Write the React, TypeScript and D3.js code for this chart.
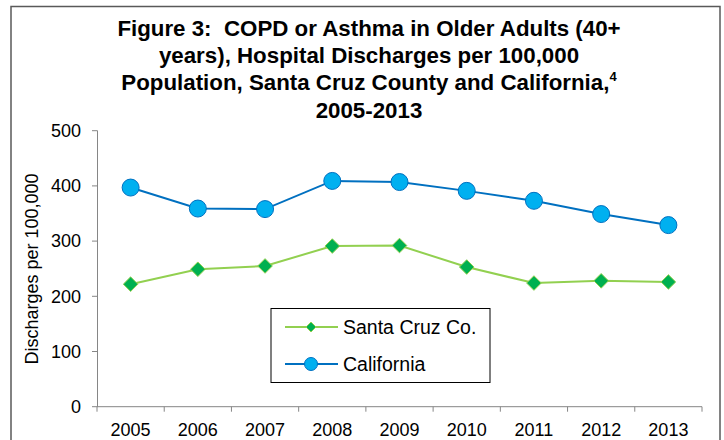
import React from "react";
import * as d3 from "d3";

const years = ["2005", "2006", "2007", "2008", "2009", "2010", "2011", "2012", "2013"];
const santaCruz = [222, 249, 255, 291, 292, 253, 224, 228, 226];
const california = [397, 359, 358, 409, 407, 391, 373, 349, 329];
const yTicks = [0, 100, 200, 300, 400, 500];
const titleLines = [
  "Figure 3:  COPD or Asthma in Older Adults (40+",
  "years), Hospital Discharges per 100,000",
  "Population, Santa Cruz County and California,",
  "2005-2013",
];

export default function App() {
  const W = 724, H = 440;
  const x = d3.scaleBand<string>().domain(years).range([97, 702]);
  const y = d3.scaleLinear().domain([0, 500]).range([406.7, 130.7]);
  const cx = (d: string) => (x(d) as number) + x.bandwidth() / 2;
  const line = d3.line<number>().x((_, i) => cx(years[i])).y((v) => y(v));
  const font = "Liberation Sans, Arial, sans-serif";
  const axisColor = "#868686";
  const diamond = (px: number, py: number, r: number) =>
    `M${px},${py - r}L${px + r},${py}L${px},${py + r}L${px - r},${py}Z`;

  return (
    <svg width={W} height={H} style={{ position: "absolute", left: 0, top: 0 }} fontFamily={font}>
      <rect x={0} y={0} width={W} height={H} fill="#fff" />
      <path d={`M11,${H + 5}V6.5H720V${H + 5}`} fill="none" stroke="#595959" strokeWidth={1.5} />
      {titleLines.map((t, i) => (
        <text key={i} x={369} y={36 + i * 27.2} textAnchor="middle" fontSize={22.3} fontWeight="bold" fill="#000" style={{ whiteSpace: "pre" }}>
          {t}
          {i === 2 ? <tspan fontSize={13} dy={-9}>4</tspan> : null}
        </text>
      ))}
      {/* y axis */}
      <line x1={97.5} x2={97.5} y1={y(500)} y2={y(0)} stroke={axisColor} strokeWidth={1} />
      {yTicks.map((t) => (
        <g key={t}>
          <line x1={92} x2={97.5} y1={y(t)} y2={y(t)} stroke={axisColor} />
          <text x={81} y={y(t)} dy="0.35em" textAnchor="end" fontSize={18} fill="#000">{t}</text>
        </g>
      ))}
      <text transform={`translate(38,${269}) rotate(-90)`} textAnchor="middle" fontSize={18} fill="#000">
        Discharges per 100,000
      </text>
      {/* x axis */}
      <line x1={97} x2={702} y1={y(0)} y2={y(0)} stroke={axisColor} />
      {years.concat(["end"]).map((d, i) => {
        const px = i < years.length ? (x(d) as number) : 702;
        return <line key={d} x1={px} x2={px} y1={y(0)} y2={y(0) + 5} stroke={axisColor} />;
      })}
      {years.map((d) => (
        <text key={d} x={cx(d)} y={436} textAnchor="middle" fontSize={18} fill="#000">{d}</text>
      ))}
      {/* series */}
      <path d={line(california) || ""} fill="none" stroke="#0070C0" strokeWidth={2} />
      {california.map((v, i) => (
        <circle key={i} cx={cx(years[i])} cy={y(v)} r={8.5} fill="#00B0F0" stroke="#0070C0" strokeWidth={1} />
      ))}
      <path d={line(santaCruz) || ""} fill="none" stroke="#92D050" strokeWidth={2} />
      {santaCruz.map((v, i) => (
        <path key={i} d={diamond(cx(years[i]), y(v), 7.3)} fill="#00B050" stroke="#92D050" strokeWidth={1} />
      ))}
      {/* legend */}
      <rect x={271} y={308.5} width={219} height={74} fill="#fff" stroke="#000" strokeWidth={1} />
      <line x1={285} x2={338} y1={327} y2={327} stroke="#92D050" strokeWidth={2} />
      <path d={diamond(311, 327, 5)} fill="#00B050" stroke="#92D050" strokeWidth={1} />
      <text x={343} y={327} dy="0.35em" fontSize={19.5} fill="#000">Santa Cruz Co.</text>
      <line x1={285} x2={338} y1={364} y2={364} stroke="#0070C0" strokeWidth={2} />
      <circle cx={311} cy={364} r={6.5} fill="#00B0F0" stroke="#0070C0" strokeWidth={1} />
      <text x={343} y={364} dy="0.35em" fontSize={19.5} fill="#000">California</text>
    </svg>
  );
}
